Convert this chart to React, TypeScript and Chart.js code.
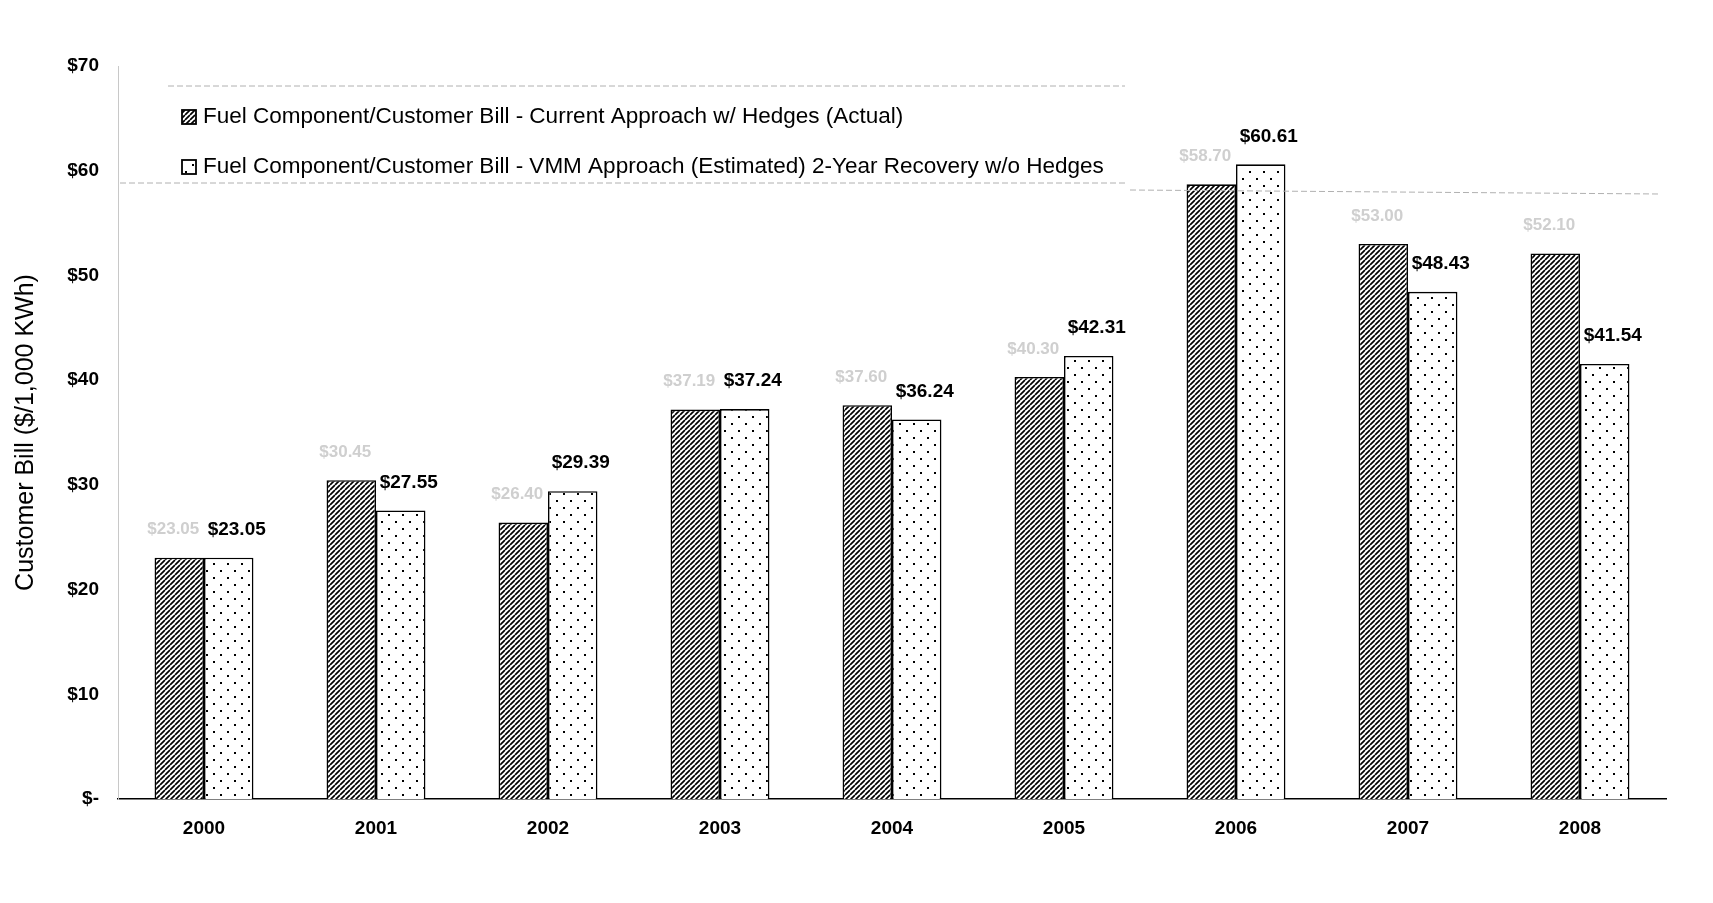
import React, { useEffect, useRef } from "react";
import { Chart, registerables } from "chart.js";

Chart.register(...registerables);

const categories = ["2000", "2001", "2002", "2003", "2004", "2005", "2006", "2007", "2008"];
const currentApproach = [23.05, 30.45, 26.4, 37.19, 37.6, 40.3, 58.7, 53.0, 52.1];
const vmmApproach = [23.05, 27.55, 29.39, 37.24, 36.24, 42.31, 60.61, 48.43, 41.54];
const seriesNames = [
  "Fuel Component/Customer Bill - Current Approach w/ Hedges (Actual)",
  "Fuel Component/Customer Bill - VMM Approach (Estimated) 2-Year Recovery w/o Hedges",
];
const yTicks = [0, 10, 20, 30, 40, 50, 60, 70];

const FONT = "'Liberation Sans', Arial, sans-serif";

function makeHatch(): CanvasPattern | string {
  const c = document.createElement("canvas");
  c.width = 5;
  c.height = 5;
  const g = c.getContext("2d");
  if (!g) return "#444";
  g.fillStyle = "#fff";
  g.fillRect(0, 0, 5, 5);
  g.strokeStyle = "#000";
  g.lineWidth = 1.7;
  g.beginPath();
  for (let k = -5; k <= 10; k += 5) {
    g.moveTo(k, 5);
    g.lineTo(k + 5, 0);
  }
  g.stroke();
  return g.createPattern(c, "repeat") as CanvasPattern;
}

function makeDots(): CanvasPattern | string {
  const c = document.createElement("canvas");
  c.width = 14;
  c.height = 14;
  const g = c.getContext("2d");
  if (!g) return "#fff";
  g.fillStyle = "#fff";
  g.fillRect(0, 0, 14, 14);
  g.fillStyle = "#000";
  g.fillRect(3, 3, 2, 2);
  g.fillRect(10, 10, 2, 2);
  return g.createPattern(c, "repeat") as CanvasPattern;
}

export default function App() {
  const ref = useRef<HTMLCanvasElement | null>(null);

  useEffect(() => {
    if (!ref.current) return;
    const hatch = makeHatch();
    const dots = makeDots();
    const fills = [hatch, dots];

    const labelPlugin = {
      id: "valueLabels",
      afterDatasetsDraw(chart: any) {
        const ctx = chart.ctx;
        ctx.save();
        ctx.textAlign = "center";
        ctx.textBaseline = "middle";
        chart.data.datasets.forEach((ds: any, di: number) => {
          const meta = chart.getDatasetMeta(di);
          meta.data.forEach((el: any, i: number) => {
            const v = ds.data[i];
            if (di === 0) {
              ctx.fillStyle = "#cfcfcf";
              ctx.font = `bold 17px ${FONT}`;
              ctx.fillText("$" + v.toFixed(2), el.x - 6, el.y - 28);
            } else {
              ctx.fillStyle = "#000";
              ctx.font = `bold 19px ${FONT}`;
              ctx.fillText("$" + v.toFixed(2), el.x + 8, el.y - 28);
            }
          });
        });
        ctx.restore();
      },
    };

    const legendPlugin = {
      id: "customLegend",
      afterDraw(chart: any) {
        const ctx = chart.ctx;
        ctx.save();
        ctx.strokeStyle = "#b0b0b0";
        ctx.lineWidth = 1;
        ctx.setLineDash([6, 3]);
        ctx.beginPath();
        ctx.moveTo(168, 86);
        ctx.lineTo(1125, 86);
        ctx.moveTo(120, 183);
        ctx.lineTo(1125, 183);
        ctx.moveTo(1130, 190);
        ctx.lineTo(1660, 194);
        ctx.stroke();
        ctx.setLineDash([]);
        const rows = [117, 167];
        chart.data.datasets.forEach((ds: any, di: number) => {
          const y = rows[di];
          ctx.fillStyle = fills[di];
          ctx.fillRect(182, y - 7, 14, 14);
          ctx.strokeStyle = "#000";
          ctx.lineWidth = 1.8;
          ctx.strokeRect(182, y - 7, 14, 14);
          ctx.fillStyle = "#000";
          ctx.font = `22.5px ${FONT}`;
          ctx.textAlign = "left";
          ctx.textBaseline = "middle";
          ctx.fillText(ds.label, 203, y);
        });
        ctx.restore();
      },
    };

    const chart = new Chart(ref.current, {
      type: "bar",
      data: {
        labels: categories,
        datasets: [
          {
            label: seriesNames[0],
            data: currentApproach,
            backgroundColor: hatch as any,
            borderColor: "#000",
            borderWidth: 1.6,
            categoryPercentage: 0.575,
            barPercentage: 1,
          },
          {
            label: seriesNames[1],
            data: vmmApproach,
            backgroundColor: dots as any,
            borderColor: "#000",
            borderWidth: 1.6,
            categoryPercentage: 0.575,
            barPercentage: 1,
          },
        ],
      },
      options: {
        animation: false,
        responsive: false,
        maintainAspectRatio: false,
        layout: { padding: { left: 0, top: 66, right: 47, bottom: 0 } },
        plugins: {
          legend: { display: false },
          tooltip: { enabled: false },
          title: { display: false },
        },
        scales: {
          x: {
            grid: { display: false, drawTicks: false },
            border: { display: true, color: "#000", width: 1.6 },
            ticks: {
              color: "#000",
              font: { family: FONT, size: 19, weight: "bold" },
              padding: 18,
            },
            afterFit(s: any) {
              s.height = 104;
            },
          },
          y: {
            min: 0,
            max: 70,
            afterBuildTicks(s: any) {
              s.ticks = yTicks.map((v) => ({ value: v }));
            },
            grid: { display: false, drawTicks: false },
            border: { display: true, color: "#c8c8c8", width: 1, dash: [2, 3] },
            ticks: {
              color: "#000",
              font: { family: FONT, size: 19, weight: "bold" },
              padding: 19,
              callback: (v: any) => (v === 0 ? "$-" : "$" + v),
            },
            title: {
              display: true,
              text: "Customer Bill ($/1,000 KWh)",
              color: "#000",
              font: { family: FONT, size: 25 },
              padding: { top: 11, bottom: 0 },
            },
            afterFit(s: any) {
              s.width = 118;
            },
          },
        },
      },
      plugins: [labelPlugin, legendPlugin],
    });
    return () => chart.destroy();
  }, []);

  return (
    <div style={{ position: "fixed", left: 0, top: 0, width: 1713, height: 903, background: "#fff" }}>
      <canvas ref={ref} width={1713} height={903} style={{ width: 1713, height: 903, display: "block" }} />
    </div>
  );
}
